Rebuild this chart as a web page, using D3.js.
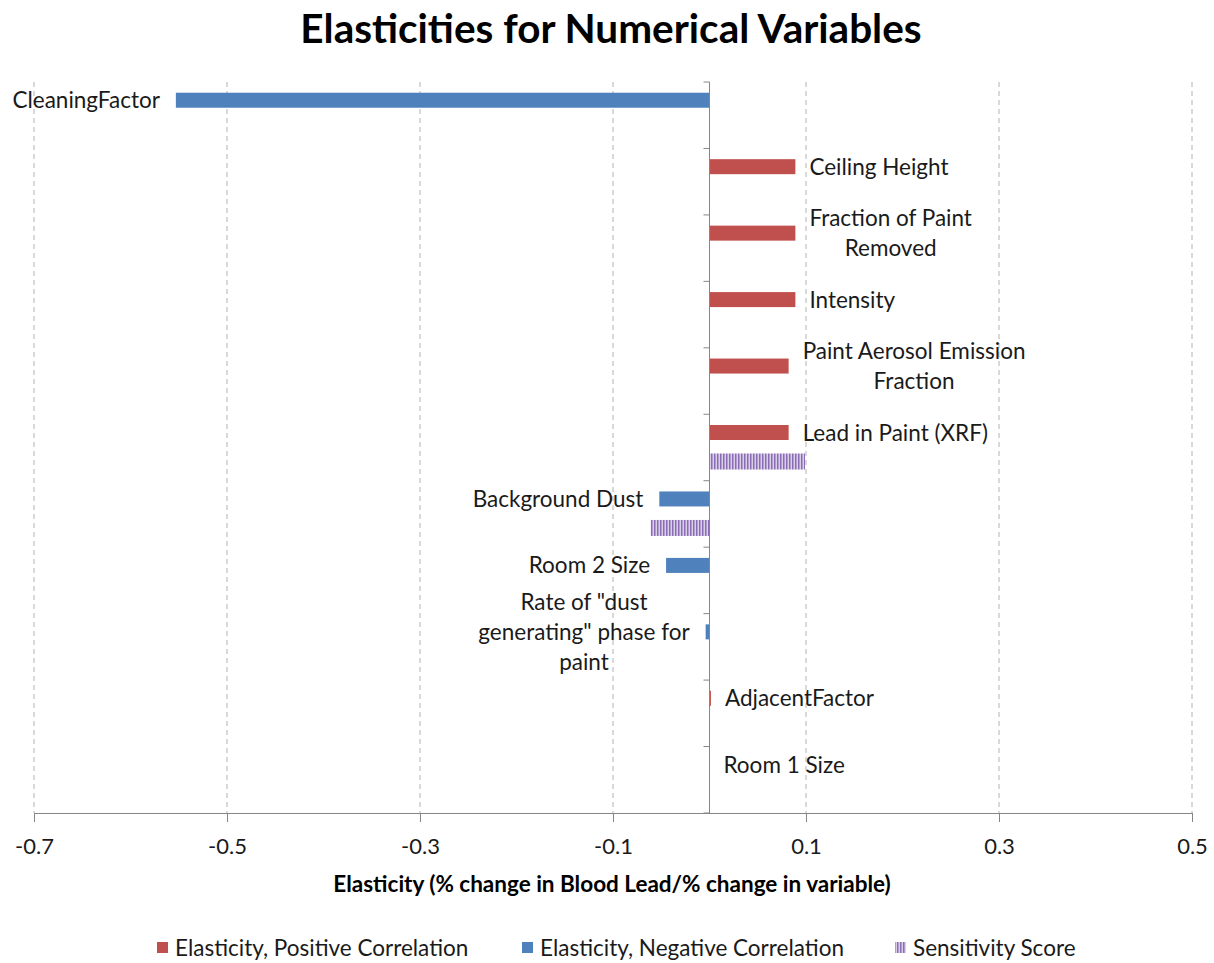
<!DOCTYPE html>
<html>
<head>
<meta charset="utf-8">
<script src="https://cdn.jsdelivr.net/npm/d3@7/dist/d3.min.js"></script>
<style>
  html, body { margin: 0; padding: 0; background: #fff; }
  svg { display: block; }
  text { font-family: "Lato", "Open Sans", sans-serif; fill: #1a1a1a; }
</style>
</head>
<body>
<svg id="chart" width="1214" height="963"></svg>
<script>
// Variables, top to bottom
const categories = [
  "CleaningFactor",
  "Ceiling Height",
  "Fraction of Paint Removed",
  "Intensity",
  "Paint Aerosol Emission Fraction",
  "Lead in Paint (XRF)",
  "Background Dust",
  "Room 2 Size",
  "Rate of \"dust generating\" phase for paint",
  "AdjacentFactor",
  "Room 1 Size"
];
// Data label lines as wrapped in the chart
const labelLines = [
  ["CleaningFactor"],
  ["Ceiling Height"],
  ["Fraction of Paint", "Removed"],
  ["Intensity"],
  ["Paint Aerosol Emission", "Fraction"],
  ["Lead in Paint (XRF)"],
  ["Background Dust"],
  ["Room 2 Size"],
  ["Rate of \"dust", "generating\" phase for", "paint"],
  ["AdjacentFactor"],
  ["Room 1 Size"]
];
const positiveElasticity = [0, 0.089, 0.089, 0.089, 0.082, 0.082, 0, 0, 0, 0.0015, 0];
const negativeElasticity = [-0.553, 0, 0, 0, 0, 0, -0.052, -0.045, -0.004, 0, 0];
const sensitivityScore   = [0, 0, 0, 0, 0, 0.099, -0.061, 0, 0, 0, 0];
const xTicks = [-0.7, -0.5, -0.3, -0.1, 0.1, 0.3, 0.5];
const seriesNames = ["Elasticity, Positive Correlation", "Elasticity, Negative Correlation", "Sensitivity Score"];

const RED = "#C0504D", BLUE = "#4F81BD";

const svg = d3.select("#chart");
const defs = svg.append("defs");
const pat = defs.append("pattern")
  .attr("id", "stripes").attr("patternUnits", "userSpaceOnUse")
  .attr("width", 3).attr("height", 10);
pat.append("rect").attr("width", 3).attr("height", 10).attr("fill", "#d9d0e8");
pat.append("rect").attr("width", 1.5).attr("height", 10).attr("fill", "#8a6db4");

const plotTop = 82, plotBottom = 813;
const x = d3.scaleLinear().domain([-0.7, 0.5]).range([34, 1192]);
const y = d3.scaleBand().domain(categories).range([plotTop, plotBottom]);

// Title
svg.append("text")
  .attr("x", 611).attr("y", 43)
  .attr("text-anchor", "middle")
  .style("font-size", "40.5px").style("font-weight", "bold").style("fill", "#000")
  .text("Elasticities for Numerical Variables");

// Dashed vertical gridlines
svg.append("g").selectAll("line").data(xTicks).join("line")
  .attr("x1", d => x(d)).attr("x2", d => x(d))
  .attr("y1", plotTop).attr("y2", plotBottom)
  .attr("stroke", "#b3b3b3").attr("stroke-width", 1)
  .attr("stroke-dasharray", "5,4");

// Horizontal value axis
const xAxis = svg.append("g")
  .attr("transform", `translate(0,${plotBottom})`)
  .call(d3.axisBottom(x).tickValues(xTicks).tickSize(9).tickSizeOuter(0).tickFormat(d => d.toFixed(1)));
xAxis.select(".domain").attr("stroke", "#868686");
xAxis.selectAll(".tick line").attr("stroke", "#868686");
xAxis.selectAll(".tick text")
  .attr("y", 25)
  .style("font-size", "22px").style("font-family", "Lato, sans-serif").attr("fill", "#1a1a1a");

svg.append("text")
  .attr("x", 612).attr("y", 892)
  .attr("text-anchor", "middle")
  .style("font-size", "22.5px").style("font-weight", "bold").style("fill", "#000")
  .text("Elasticity (% change in Blood Lead/% change in variable)");

// Bars
const elasOffset = -15, sensOffset = 14, barH = 15;
const bars = svg.append("g");
function drawSeries(values, fill, offset, h) {
  bars.selectAll(null)
    .data(values.map((v, i) => ({ v, c: categories[i] })).filter(d => d.v !== 0))
    .join("rect")
    .attr("x", d => Math.min(x(0), x(d.v)))
    .attr("width", d => Math.abs(x(d.v) - x(0)))
    .attr("y", d => y(d.c) + y.bandwidth() / 2 + offset - h / 2)
    .attr("height", h)
    .attr("fill", fill);
}
drawSeries(positiveElasticity, RED, elasOffset, barH);
drawSeries(negativeElasticity, BLUE, elasOffset, barH);
drawSeries(sensitivityScore, "url(#stripes)", sensOffset, 16);

// Category axis at zero
const yAxis = svg.append("g");
yAxis.append("line")
  .attr("x1", x(0)).attr("x2", x(0)).attr("y1", plotTop).attr("y2", plotBottom)
  .attr("stroke", "#868686");
const bounds = categories.map(c => y(c)).concat([plotBottom]);
yAxis.selectAll(null).data(bounds).join("line")
  .attr("x1", x(0) - 6).attr("x2", x(0))
  .attr("y1", d => d).attr("y2", d => d)
  .attr("stroke", "#868686");

// Data labels
const labels = svg.append("g");
categories.forEach((c, i) => {
  const v = negativeElasticity[i] !== 0 ? negativeElasticity[i] : positiveElasticity[i];
  const cy = y(c) + y.bandwidth() / 2 + elasOffset;
  const lines = labelLines[i];
  const lh = 30;
  const g = labels.append("g");
  const texts = lines.map((ln, k) => g.append("text")
    .attr("y", cy + (k - (lines.length - 1) / 2) * lh + 8)
    .attr("text-anchor", "middle")
    .style("font-size", "22.5px")
    .text(ln));
  const w = d3.max(texts, t => t.node().getComputedTextLength());
  const cx = v < 0 ? x(v) - 16 - w / 2 : x(v) + 14 + w / 2;
  texts.forEach(t => t.attr("x", cx));
});

// Legend
const legendItems = [
  { name: seriesNames[0], fill: RED, x: 157 },
  { name: seriesNames[1], fill: BLUE, x: 522 },
  { name: seriesNames[2], fill: "url(#stripes)", x: 895 }
];
const lg = svg.append("g");
legendItems.forEach(it => {
  lg.append("rect").attr("x", it.x).attr("y", 942).attr("width", 11).attr("height", 11).attr("fill", it.fill);
  lg.append("text").attr("x", it.x + 18).attr("y", 956)
    .style("font-size", "22.5px").text(it.name);
});
</script>
</body>
</html>
